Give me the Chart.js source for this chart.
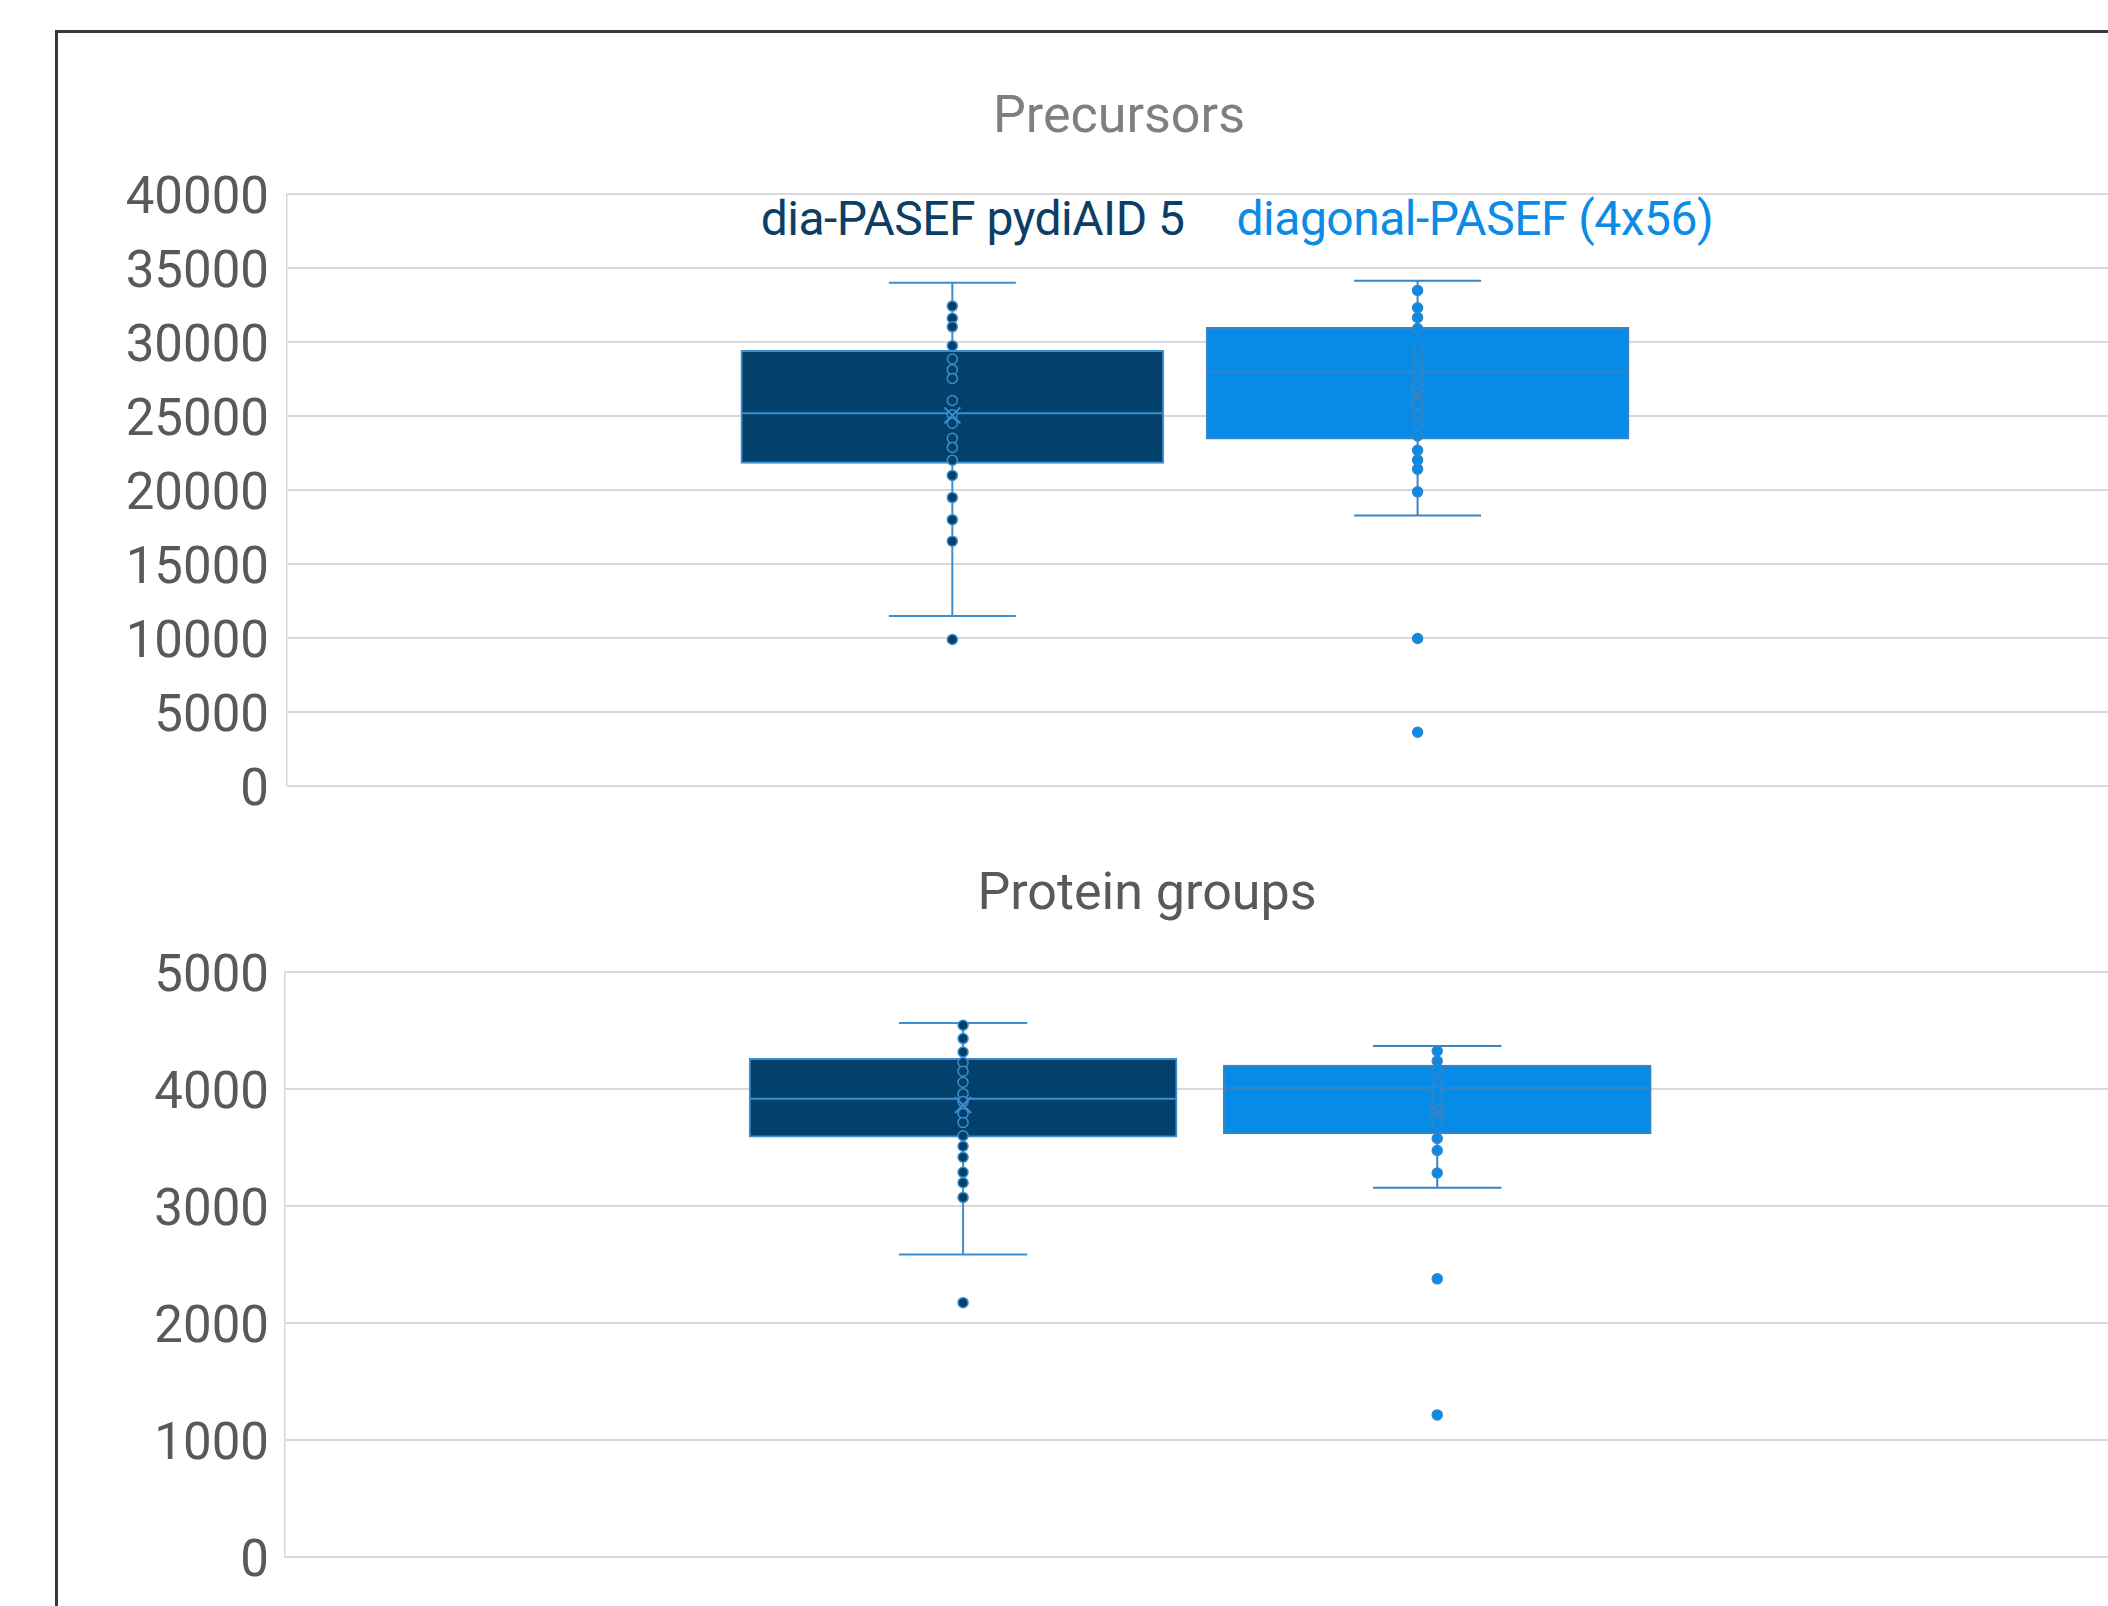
<!DOCTYPE html>
<html>
<head>
<meta charset="utf-8">
<script src="https://cdn.jsdelivr.net/npm/chart.js@4.4.1/dist/chart.umd.min.js"></script>
<style>
  body { margin: 0; width: 2108px; height: 1606px; overflow: hidden; background: #fff; position: relative; font-family: Roboto, sans-serif; }
  #frame { position: absolute; left: 55px; top: 30px; width: 2200px; height: 1700px; border-left: 3px solid #3a3a3a; border-top: 3px solid #3a3a3a; }
  canvas { position: absolute; left: 58px; }
  .title { position: absolute; transform: translate(-50%, -50%); font-size: 52px; line-height: 1; white-space: nowrap; }
  #legend { position: absolute; left: 1237px; top: 219px; transform: translate(-50%, -50%); display: flex; gap: 52px; font-size: 48px; line-height: 1; letter-spacing: -0.5px; white-space: nowrap; }
</style>
</head>
<body>
<div id="frame"></div>
<div class="title" style="left:1119px; top:115px; color:#7f7f7f">Precursors</div>
<div id="legend"></div>
<div class="title" style="left:1147px; top:892px; color:#595959">Protein groups</div>
<canvas id="precChart" width="2064" height="802" style="top:33px"></canvas>
<canvas id="protChart" width="2097" height="774" style="top:830px"></canvas>
<script>
// Series
const seriesNames = ['dia-PASEF pydiAID 5', 'diagonal-PASEF (4x56)'];
const seriesFill = ['#03406b', '#078be8'];
const seriesLine = ['#3c8fcc', '#3a84c2'];
const legendColors = ['#0b3f66', '#0b8be6'];
const seriesPos = [1, 2];

// Precursors: box statistics per series
const precLow = [11500, 18300];
const precQ1 = [21800, 23450];
const precMedian = [25200, 28000];
const precQ3 = [29450, 31000];
const precHigh = [34000, 34150];
const precMean = [25050, 26400];
const precPointsA = [32430, 31610, 31030, 29760, 28860, 28140, 27550, 26060, 25100, 24520, 23500, 22890, 22030, 21000, 19500, 18010, 16560, 9920];
const precPointsB = [33490, 32320, 31660, 30920, 29600, 28970, 28410, 27800, 27200, 26550, 25830, 25100, 24520, 23660, 22690, 22030, 21420, 19890, 9990, 3660];
const precTicks = [0, 5000, 10000, 15000, 20000, 25000, 30000, 35000, 40000];

// Protein groups
const protLow = [2588, 3157];
const protQ1 = [3590, 3618];
const protMedian = [3918, 4010];
const protQ3 = [4262, 4204];
const protHigh = [4565, 4367];
const protMean = [3864, 3807];
const protPointsA = [4545, 4431, 4316, 4227, 4153, 4058, 3961, 3893, 3792, 3715, 3601, 3512, 3418, 3289, 3200, 3075, 2176];
const protPointsB = [4325, 4239, 4167, 4058, 3979, 3899, 3821, 3710, 3578, 3475, 3283, 2379, 1217];
const protTicks = [0, 1000, 2000, 3000, 4000, 5000];

// legend texts
const legendEl = document.getElementById('legend');
seriesNames.forEach((name, i) => {
  const span = document.createElement('span');
  span.textContent = name;
  span.style.color = legendColors[i];
  legendEl.appendChild(span);
});

// whiskers, caps, median and mean marker drawn from the y scale
const boxParts = {
  id: 'boxParts',
  afterDatasetDraw(chart, args, opts) {
    if (args.index !== 0) return;
    const y = chart.scales.y;
    const ctx = chart.ctx;
    args.meta.data.forEach((bar, i) => {
      const x = bar.x;
      const cap = bar.width * 0.15;
      const half = bar.width / 2;
      ctx.save();
      ctx.lineWidth = 2;
      ctx.strokeStyle = seriesLine[i];
      ctx.beginPath();
      ctx.moveTo(x, y.getPixelForValue(opts.high[i]));
      ctx.lineTo(x, y.getPixelForValue(opts.q3[i]));
      ctx.moveTo(x, y.getPixelForValue(opts.q1[i]));
      ctx.lineTo(x, y.getPixelForValue(opts.low[i]));
      ctx.moveTo(x - cap, y.getPixelForValue(opts.high[i]));
      ctx.lineTo(x + cap, y.getPixelForValue(opts.high[i]));
      ctx.moveTo(x - cap, y.getPixelForValue(opts.low[i]));
      ctx.lineTo(x + cap, y.getPixelForValue(opts.low[i]));
      ctx.moveTo(x - half + 1, y.getPixelForValue(opts.median[i]));
      ctx.lineTo(x + half - 1, y.getPixelForValue(opts.median[i]));
      ctx.stroke();
      ctx.restore();
    });
  },
  afterDatasetsDraw(chart, args, opts) {
    const y = chart.scales.y;
    const ctx = chart.ctx;
    chart.getDatasetMeta(0).data.forEach((bar, i) => {
      const my = y.getPixelForValue(opts.mean[i]);
      const s = 8;
      ctx.save();
      ctx.lineWidth = 2;
      ctx.strokeStyle = seriesLine[i];
      ctx.beginPath();
      ctx.moveTo(bar.x - s, my - s);
      ctx.lineTo(bar.x + s, my + s);
      ctx.moveTo(bar.x + s, my - s);
      ctx.lineTo(bar.x - s, my + s);
      ctx.stroke();
      ctx.restore();
    });
  }
};

function pointSet(values, i) {
  return {
    type: 'scatter',
    data: values.map(v => ({ x: seriesPos[i], y: v })),
    pointRadius: 5,
    pointBorderWidth: 1.5,
    pointBackgroundColor: seriesFill[i],
    pointBorderColor: seriesLine[i],
    order: 1
  };
}

function makeBoxChart(canvasId, stats, pointsA, pointsB, ticks, axisWidth, tickPad, padTop, barWidth) {
  const yMax = ticks[ticks.length - 1];
  const step = ticks[1] - ticks[0];
  return new Chart(document.getElementById(canvasId), {
    type: 'bar',
    data: {
      datasets: [{
        type: 'bar',
        data: seriesPos.map((p, i) => ({ x: p, y: [stats.q1[i], stats.q3[i]] })),
        backgroundColor: seriesFill,
        borderColor: seriesLine,
        borderWidth: 2,
        borderSkipped: false,
        barThickness: barWidth,
        order: 2
      },
      pointSet(pointsA, 0),
      pointSet(pointsB, 1)]
    },
    options: {
      responsive: false,
      animation: false,
      events: [],
      layout: { padding: { top: padTop, bottom: 40, left: 0, right: 0 } },
      plugins: {
        legend: { display: false },
        title: { display: false },
        tooltip: { enabled: false },
        boxParts: stats
      },
      scales: {
        x: { type: 'linear', min: -0.43, max: 3.5, offset: false, display: false },
        y: {
          min: 0,
          max: yMax,
          afterFit: scale => { scale.width = axisWidth; },
          ticks: {
            stepSize: step,
            padding: tickPad,
            labelOffset: 6,
            color: '#595959',
            font: { family: 'Roboto', size: 51 },
            callback: v => String(v)
          },
          grid: { color: '#d9d9d9', lineWidth: 2, drawTicks: false },
          border: { color: '#d9d9d9', width: 1.5 }
        }
      }
    },
    plugins: [boxParts]
  });
}

makeBoxChart('precChart',
  { low: precLow, q1: precQ1, median: precMedian, q3: precQ3, high: precHigh, mean: precMean },
  precPointsA, precPointsB, precTicks, 229, 18, 161, 423);

makeBoxChart('protChart',
  { low: protLow, q1: protQ1, median: protMedian, q3: protQ3, high: protHigh, mean: protMean },
  protPointsA, protPointsB, protTicks, 227, 16, 142, 428);
</script>
</body>
</html>
